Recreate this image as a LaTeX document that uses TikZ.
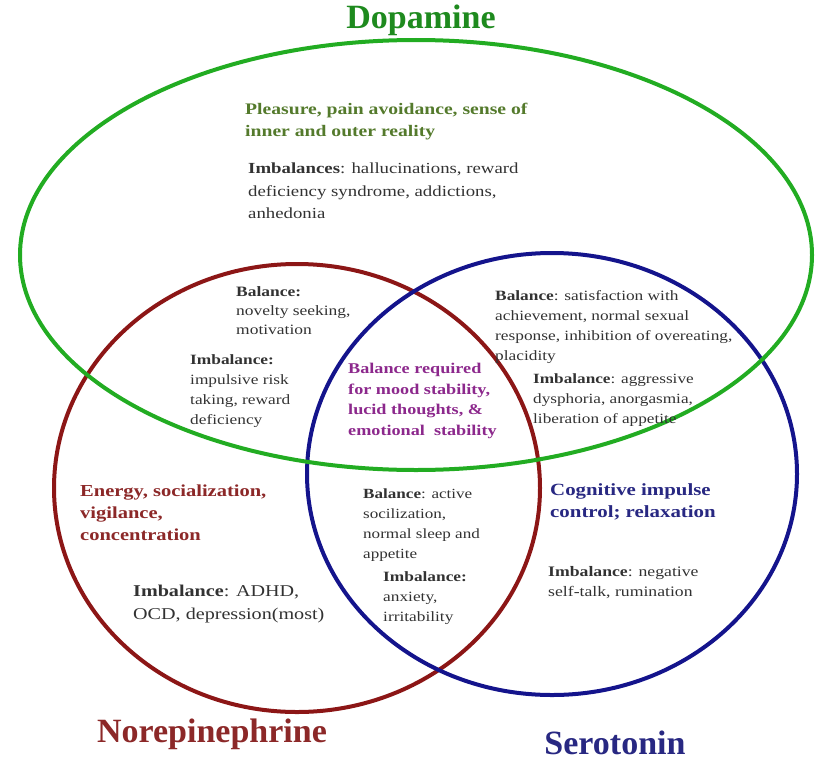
\documentclass[tikz,border=0pt]{standalone}
\usepackage{fontspec}
% body text is set wide; headings use the normal width
\setmainfont[FakeStretch=1.22]{Liberation Serif}
\newfontfamily\titlefont{Liberation Serif}
\usetikzlibrary{shapes.geometric}
\definecolor{ringgreen}{RGB}{34,172,34}
\definecolor{ringred}{RGB}{140,22,22}
\definecolor{ringblue}{RGB}{20,20,140}
\definecolor{titlegreen}{RGB}{30,138,30}
\definecolor{olive}{RGB}{84,122,44}
\definecolor{wine}{RGB}{140,40,40}
\definecolor{navy}{RGB}{40,40,130}
\definecolor{plum}{RGB}{140,40,140}
\definecolor{bodygray}{RGB}{50,50,50}
\newcommand\fsz[2]{\fontsize{#1}{#2}\selectfont}
\begin{document}
\begin{tikzpicture}[x=1pt,y=-1pt,
  ring/.style={draw, ellipse, line width=4pt, inner sep=0pt},
  txt/.style={anchor=north west, inner sep=0pt, align=left, text=bodygray},
  heading/.style={inner sep=0pt, font=\titlefont\fsz{34}{38}\bfseries}]
\useasboundingbox (0,0) rectangle (826,760);

% the three neurotransmitter rings
\node[ring, draw=ringred, minimum width=486pt, minimum height=448pt] (nor) at (297,488) {};
\node[ring, draw=ringblue, minimum width=490pt, minimum height=442pt] (ser) at (552,474) {};
\node[ring, draw=ringgreen, minimum width=792pt, minimum height=430pt] (dop) at (416,255) {};

% titles
\node[heading, text=titlegreen] (tdop) at (421,20) {Dopamine};
\node[heading, text=wine] (tnor) at (212,734) {Norepinephrine};
\node[heading, text=navy] (tser) at (615,743) {Serotonin};

% dopamine only
\node[txt, text=olive, font=\fsz{16.1}{22}\bfseries] (dfun) at (245,103)
  {Pleasure, pain avoidance, sense of\\inner and outer reality};
\node[txt, font=\fsz{15.4}{22.5}] (dimb) at (248,163)
  {\textbf{Imbalances}: hallucinations, reward\\deficiency syndrome, addictions,\\anhedonia};

% dopamine & norepinephrine
\node[txt, font=\fsz{14.3}{19}] (dnbal) at (236,286)
  {\textbf{Balance:}\\novelty seeking,\\motivation};
\node[txt, font=\fsz{14.2}{20}] (dnimb) at (190,354)
  {\textbf{Imbalance:}\\impulsive risk\\taking, reward\\deficiency};

% all three
\node[txt, text=plum, font=\fsz{14.9}{20.7}\bfseries] (core) at (348,363)
  {Balance required\\for mood stability,\\lucid thoughts, \&\\emotional\ \ stability};

% dopamine & serotonin
\node[txt, font=\fsz{14.2}{20}] (dsbal) at (495,290)
  {\textbf{Balance}: satisfaction with\\achievement, normal sexual\\response, inhibition of overeating,\\placidity};
\node[txt, font=\fsz{14.1}{20}] (dsimb) at (533,374)
  {\textbf{Imbalance}: aggressive\\dysphoria, anorgasmia,\\liberation of appetite};

% norepinephrine only
\node[txt, text=wine, font=\fsz{16.8}{22}\bfseries] (nfun) at (80,485)
  {Energy, socialization,\\vigilance,\\concentration};
\node[txt, font=\fsz{16.5}{23}] (nimb) at (133,585)
  {\textbf{Imbalance}: ADHD,\\OCD, depression(most)};

% norepinephrine & serotonin
\node[txt, font=\fsz{14}{20}] (nsbal) at (363,489)
  {\textbf{Balance}: active\\socilization,\\normal sleep and\\appetite};
\node[txt, font=\fsz{14.2}{20}] (nsimb) at (383,571)
  {\textbf{Imbalance:}\\anxiety,\\irritability};

% serotonin only
\node[txt, text=navy, font=\fsz{17.1}{22}\bfseries] (sfun) at (550,483)
  {Cognitive impulse\\control; relaxation};
\node[txt, font=\fsz{14.5}{20}] (simb) at (548,566)
  {\textbf{Imbalance}: negative\\self-talk, rumination};
\end{tikzpicture}
\end{document}
